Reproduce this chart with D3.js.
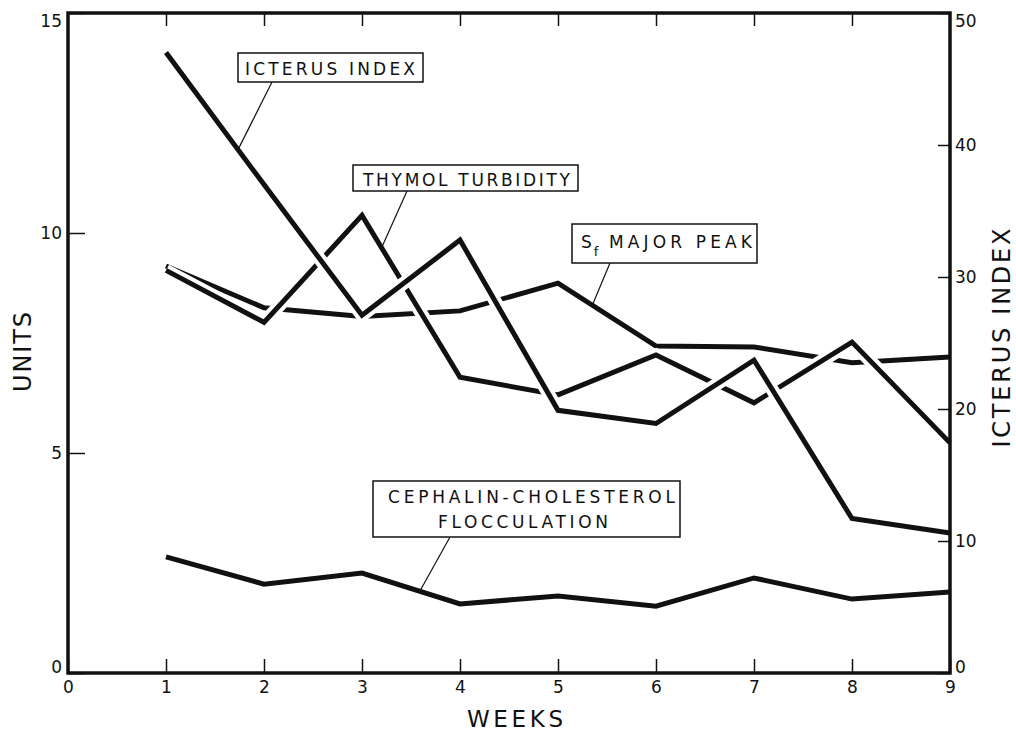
<!DOCTYPE html>
<html>
<head>
<meta charset="utf-8">
<script src="https://cdn.jsdelivr.net/npm/d3@7"></script>
<style>
  body { margin: 0; background: #fff; }
  svg text { font-family: "DejaVu Sans", sans-serif; fill: #111; }
</style>
</head>
<body>
<svg id="chart" width="1016" height="733"></svg>
<script>
// values
var weeks = [1, 2, 3, 4, 5, 6, 7, 8, 9];
var icterusIndex = [47.0, 37.0, 27.1, 32.8, 19.9, 18.9, 23.7, 11.7, 10.6];     // right axis
var thymolTurbidity = [9.15, 7.97, 10.4, 6.72, 6.32, 7.23, 6.14, 7.52, 5.23];   // units
var sfMajorPeak = [9.25, 8.3, 8.1, 8.23, 8.86, 7.43, 7.41, 7.05, 7.18];        // units
var cephalinFlocculation = [2.64, 2.02, 2.27, 1.57, 1.75, 1.52, 2.16, 1.68, 1.84];

var weekTicks = [0, 1, 2, 3, 4, 5, 6, 7, 8, 9];
var unitTicks = [0, 5, 10, 15];
var icterusTicks = [0, 10, 20, 30, 40, 50];

var svg = d3.select("#chart");

// note: "top" is taken by window.top, so keep the frame in an object
var frame = { left: 68, right: 950, top: 13, bottom: 673 };

var x = d3.scaleLinear().domain([0, 9]).range([frame.left, frame.right]);
var yUnits = d3.scaleLinear().domain([0, 15]).range([frame.bottom, frame.top]);
var yIcterus = d3.scaleLinear().domain([0, 50]).range([frame.bottom, frame.top]);

// lines, each with a white halo so crossings show a gap like the drawing
var series = [
  { values: sfMajorPeak, y: yUnits },
  { values: thymolTurbidity, y: yUnits },
  { values: icterusIndex, y: yIcterus },
  { values: cephalinFlocculation, y: yUnits }
];

series.forEach(function(s) {
  var line = d3.line()
      .x(function(d, i) { return x(weeks[i]); })
      .y(function(d) { return s.y(d); });
  svg.append("path")
      .datum(s.values)
      .attr("fill", "none")
      .attr("stroke", "#fff")
      .attr("stroke-width", 13)
      .attr("stroke-linejoin", "miter")
      .attr("d", line);
  svg.append("path")
      .datum(s.values)
      .attr("fill", "none")
      .attr("stroke", "#111")
      .attr("stroke-width", 5)
      .attr("stroke-linejoin", "miter")
      .attr("d", line);
});

function valueAt(values, week) {
  var i = Math.min(Math.floor(week) - 1, values.length - 2);
  var t = week - weeks[i];
  return values[i] + t * (values[i + 1] - values[i]);
}

// frame
svg.append("rect")
    .attr("x", frame.left).attr("y", frame.top)
    .attr("width", frame.right - frame.left).attr("height", frame.bottom - frame.top)
    .attr("fill", "none")
    .attr("stroke", "#111")
    .attr("stroke-width", 3.5);

// axes
function styleAxis(g) {
  g.select(".domain").remove();
  g.selectAll(".tick line").attr("stroke", "#111").attr("stroke-width", 1.5);
  g.selectAll(".tick text").style("font-size", "17px");
}

// the end labels on the side axes sit inside the frame corners in the drawing
function nudgeEnds(g, lo, hi) {
  g.selectAll(".tick text")
      .attr("dy", function(d) { return d === hi ? "0.8em" : d === lo ? "-0.05em" : "0.32em"; });
}

svg.append("g")
    .attr("transform", "translate(0," + frame.bottom + ")")
    .call(d3.axisBottom(x).tickValues(weekTicks).tickSize(-14).tickPadding(8).tickFormat(d3.format("d")))
    .call(styleAxis);

svg.append("g")
    .attr("transform", "translate(0," + frame.top + ")")
    .call(d3.axisTop(x).tickValues(weekTicks.slice(1, -1)).tickSize(-13).tickFormat(""))
    .call(styleAxis);

svg.append("g")
    .attr("transform", "translate(" + frame.left + ",0)")
    .call(d3.axisLeft(yUnits).tickValues(unitTicks).tickSize(-17).tickPadding(6).tickFormat(d3.format("d")))
    .call(styleAxis)
    .call(nudgeEnds, 0, 15);

svg.append("g")
    .attr("transform", "translate(" + frame.right + ",0)")
    .call(d3.axisRight(yIcterus).tickValues(icterusTicks).tickSize(-12).tickPadding(5).tickFormat(d3.format("d")))
    .call(styleAxis)
    .call(nudgeEnds, 0, 50);

// axis titles
svg.append("text")
    .attr("x", 515).attr("y", 727)
    .attr("text-anchor", "middle")
    .attr("textLength", 96).attr("lengthAdjust", "spacing")
    .style("font-size", "23px")
    .text("WEEKS");

svg.append("text")
    .attr("transform", "translate(31,352) rotate(-90)")
    .attr("text-anchor", "middle")
    .attr("textLength", 80).attr("lengthAdjust", "spacing")
    .style("font-size", "24px")
    .text("UNITS");

svg.append("text")
    .attr("transform", "translate(1010,338) rotate(-90)")
    .attr("text-anchor", "middle")
    .attr("textLength", 219).attr("lengthAdjust", "spacing")
    .style("font-size", "24px")
    .text("ICTERUS INDEX");

// labelled boxes with leader lines
var notes = [
  { box: [238, 53, 423, 82], lines: [{ t: "ICTERUS INDEX", x: 245, y: 75, w: 170 }],
    from: 272, values: icterusIndex, y: yIcterus, week: 1.735 },
  { box: [353, 165, 578, 191], lines: [{ t: "THYMOL TURBIDITY", x: 363, y: 186, w: 207 }],
    from: 407, values: thymolTurbidity, y: yUnits, week: 3.2 },
  { box: [572, 224, 757, 263], lines: [{ t: "MAJOR PEAK", x: 609, y: 248, w: 143 }],
    from: 610, values: sfMajorPeak, y: yUnits, week: 5.35, sub: true },
  { box: [373, 481, 680, 537], lines: [{ t: "CEPHALIN-CHOLESTEROL", x: 388, y: 503, w: 287 },
                                       { t: "FLOCCULATION", x: 438, y: 528, w: 170 }],
    from: 450, values: cephalinFlocculation, y: yUnits, week: 3.59 }
];

notes.forEach(function(n) {
  svg.append("line")
      .attr("x1", n.from).attr("y1", n.box[3])
      .attr("x2", x(n.week)).attr("y2", n.y(valueAt(n.values, n.week)))
      .attr("stroke", "#111")
      .attr("stroke-width", 1.2);
  svg.append("rect")
      .attr("x", n.box[0]).attr("y", n.box[1])
      .attr("width", n.box[2] - n.box[0]).attr("height", n.box[3] - n.box[1])
      .attr("fill", "#fff")
      .attr("stroke", "#111")
      .attr("stroke-width", 1.5);
  n.lines.forEach(function(l) {
    svg.append("text")
        .attr("x", l.x).attr("y", l.y)
        .attr("textLength", l.w).attr("lengthAdjust", "spacing")
        .style("font-size", "17px")
        .text(l.t);
  });
  if (n.sub) {
    var s = svg.append("text")
        .attr("x", 581).attr("y", 248)
        .style("font-size", "17px")
        .text("S");
    s.append("tspan")
        .attr("dx", 2).attr("dy", 8)
        .style("font-size", "13px")
        .text("f");
  }
});
</script>
</body>
</html>
